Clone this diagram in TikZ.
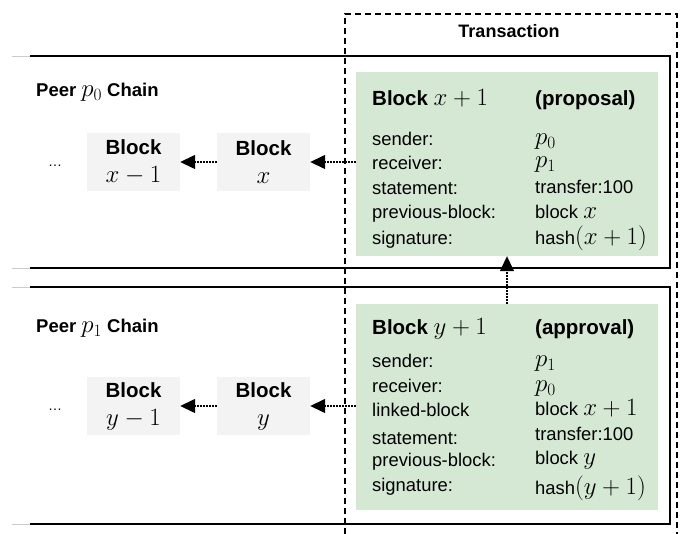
\documentclass[tikz,border=0pt]{standalone}
\usepackage{fontspec}
\setmainfont{Liberation Sans}
\usetikzlibrary{arrows.meta}
\definecolor{gfill}{HTML}{D5E8D4}
\definecolor{bfill}{HTML}{F3F3F3}
\newcommand{\mth}[1]{{\fontsize{23}{26}\selectfont$#1$}}
\newcommand{\mthb}[1]{{\fontsize{25}{28}\selectfont$#1$}}
\newcommand{\mthc}[1]{{\fontsize{26}{28}\selectfont$#1$}}
\newcommand{\bodyf}{\fontsize{18.4}{22}\selectfont}
\tikzset{
  lbl/.style={anchor=base west, inner sep=0pt, font=\bodyf},
  ttl/.style={anchor=base west, inner sep=0pt, font=\fontsize{20.5}{24}\selectfont\bfseries},
  peer/.style={anchor=base west, inner sep=0pt, font=\fontsize{18.5}{22}\selectfont},
  blk/.style={fill=bfill, minimum width=93pt, minimum height=58pt, inner sep=0pt, align=center, font=\fontsize{20.5}{28}\selectfont},
  gbox/.style={fill=gfill, inner sep=0pt},
  frame/.style={line width=1.5pt},
  faint/.style={line width=0.8pt, black!20},
  trans/.style={line width=1.4pt, dash pattern=on 6pt off 4pt},
  link/.style={line width=1.4pt, dash pattern=on 1.5pt off 1.5pt, -{Triangle[length=15pt,width=14pt]}},
  dots/.style={anchor=base, inner sep=0pt, font=\fontsize{14}{15}\selectfont}
}
\begin{document}
\begin{tikzpicture}[x=1pt,y=-1pt]
\useasboundingbox (0,0) rectangle (681,534);
% chain frames
\draw[faint] (12,56) -- (30,56);
\draw[faint] (12,268) -- (30,268);
\draw[faint] (12,287) -- (30,287);
\draw[faint] (12,524) -- (30,524);
\draw[frame] (30,56) -- (670,56) -- (670,268) -- (30,268);
\draw[frame] (30,287) -- (670,287) -- (670,524) -- (30,524);
% green blocks
\node[gbox, minimum width=302pt, minimum height=184pt] (gtop) at (507,164) {};
\node[gbox, minimum width=302pt, minimum height=206pt] (gbot) at (507,407) {};
% transaction dashed frame
\draw[trans] (345,534) -- (345,14) -- (677,14) -- (677,534);
\node[anchor=base, inner sep=0pt, font=\fontsize{18}{22}\selectfont\bfseries] (ttitle) at (509,38) {Transaction};
% peer labels
\node[peer] (p0lab) at (36,97) {\textbf{Peer} \mth{p_0} \textbf{Chain}};
\node[peer] (p1lab) at (36,333) {\textbf{Peer} \mth{p_1} \textbf{Chain}};
% chain blocks
\node[dots] (dtop) at (55,167) {…};
\node[blk] (bxm) at (133.5,162) {\textbf{Block}\\\mthc{x-1}};
\node[blk] (bx) at (263.5,162) {\textbf{Block}\\\mthc{x}};
\node[dots] (dbot) at (55,411) {…};
\node[blk] (bym) at (133.5,406) {\textbf{Block}\\\mthc{y-1}};
\node[blk] (by) at (263.5,406) {\textbf{Block}\\\mthc{y}};
% arrows
\draw[link] (gtop.west |- bx.east) -- (bx.east);
\draw[link] (bx.west) -- (bxm.east);
\draw[link] (gbot.west |- by.east) -- (by.east);
\draw[link] (by.west) -- (bym.east);
\draw[link] (gbot.north) -- (gtop.south);
% proposal block text
\node[ttl] (t1) at (372,106) {Block \mthb{x+1}};
\node[ttl] (t1b) at (535,106) {(proposal)};
\node[lbl] (a1) at (372,146) {sender:};
\node[lbl] (a2) at (372,170) {receiver:};
\node[lbl] (a3) at (372,195) {statement:};
\node[lbl] (a4) at (372,219) {previous-block:};
\node[lbl] (a5) at (372,245) {signature:};
\node[lbl] (v1) at (535,145) {\mth{p_0}};
\node[lbl] (v2) at (535,168) {\mth{p_1}};
\node[lbl] (v3) at (535,194) {transfer:100};
\node[lbl] (v4) at (535,219) {block \mth{x}};
\node[lbl] (v5) at (535,245) {hash\mth{(x+1)}};
% approval block text
\node[ttl] (t2) at (372,335) {Block \mthb{y+1}};
\node[ttl] (t2b) at (535,335) {(approval)};
\node[lbl] (b1) at (372,368) {sender:};
\node[lbl] (b2) at (372,393) {receiver:};
\node[lbl] (b3) at (372,417) {linked-block};
\node[lbl] (b4) at (372,445) {statement:};
\node[lbl] (b5) at (372,467) {previous-block:};
\node[lbl] (b6) at (372,492) {signature:};
\node[lbl] (w1) at (535,367) {\mth{p_1}};
\node[lbl] (w2) at (535,392) {\mth{p_0}};
\node[lbl] (w3) at (535,416) {block \mth{x+1}};
\node[lbl] (w4) at (535,441) {transfer:100};
\node[lbl] (w5) at (535,465) {block \mth{y}};
\node[lbl] (w6) at (535,495) {hash\mth{(y+1)}};
\end{tikzpicture}
\end{document}
